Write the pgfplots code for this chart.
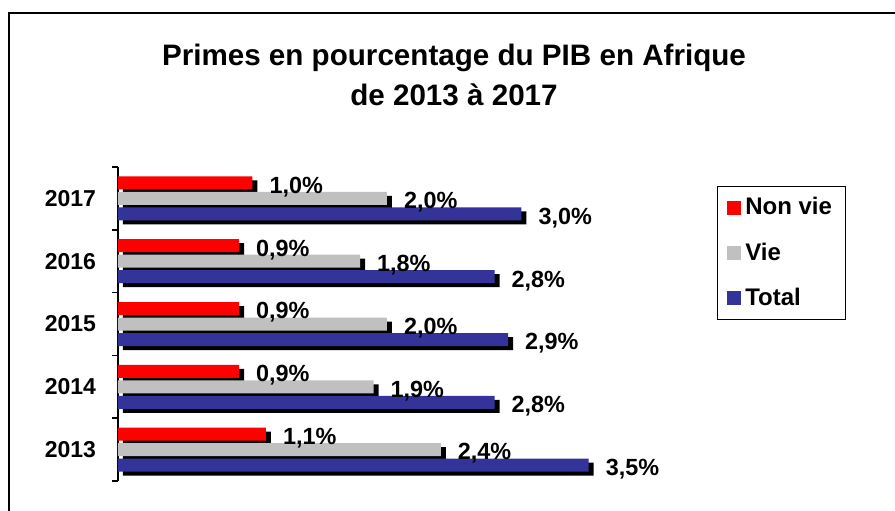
\documentclass[border=0pt]{standalone}
\usepackage{fontspec}
\setmainfont{Liberation Sans}
\usepackage{pgfplots}
\pgfplotsset{compat=1.18}
\definecolor{cred}{RGB}{255,0,0}
\definecolor{cgray}{RGB}{192,192,192}
\definecolor{cblue}{RGB}{51,51,153}
\begin{document}
\begin{tikzpicture}
\useasboundingbox (-59pt,-14.5pt) rectangle (388.5pt,240.5pt);
\draw[line width=1pt] (-54.5pt,-20pt) rectangle (400pt,234pt);
\node[font=\fontsize{14.8}{20}\selectfont\bfseries, align=center] at (168pt,203pt) {Primes en pourcentage du PIB en Afrique\\de 2013 à 2017};
\begin{axis}[
 at={(0,0)}, anchor=south west,
 scale only axis, width=269pt, height=157pt,
 xmin=0, xmax=4, ymin=-0.5, ymax=4.5,
 clip=false,
 hide x axis,
 axis y line=left, y axis line style={-, line width=0.75pt},
 ytick={0,1,2,3,4}, yticklabels={2013,2014,2015,2016,2017},
 major tick length=0pt,
 extra y ticks={-0.5,0.5,1.5,2.5,3.5,4.5}, extra y tick labels={},
 extra y tick style={major tick length=3pt, tick align=outside, tick style={line width=0.75pt,black}},
 yticklabel style={font=\fontsize{11.5}{13}\selectfont\bfseries, xshift=-7.5pt},
 xbar, bar width=6.5pt,
 point meta=x,
 /pgf/number format/fixed,
 /pgf/number format/fixed zerofill,
 /pgf/number format/precision=1,
 /pgf/number format/use comma,
 /pgf/number format/assume math mode=true,
 nodes near coords={\pgfmathprintnumber{\pgfplotspointmeta}\%},
 nodes near coords style={anchor=west, xshift=5pt, yshift=-2pt, font=\fontsize{11.7}{13}\selectfont\bfseries, text=black},
 legend style={at={(1.113,0.9395)}, anchor=north west, draw=black, line width=0.5pt,
   font=\fontsize{12}{14}\selectfont\bfseries, row sep=8.5pt, inner xsep=5pt, inner ysep=3.5pt},
 legend image code/.code={\fill[#1] (0pt,-3.5pt) rectangle (7pt,3.5pt);},
 legend cell align=left,
]
% shadows
\addplot[forget plot, fill=black, draw=none, bar shift=7.75pt, xshift=2.5pt, yshift=-2pt, nodes near coords={}] coordinates {(1.1,0) (0.9,1) (0.9,2) (0.9,3) (1.0,4)};
\addplot[forget plot, fill=black, draw=none, bar shift=0pt, xshift=2.5pt, yshift=-2pt, nodes near coords={}] coordinates {(2.4,0) (1.9,1) (2.0,2) (1.8,3) (2.0,4)};
\addplot[forget plot, fill=black, draw=none, bar shift=-7.75pt, xshift=2.5pt, yshift=-2pt, nodes near coords={}] coordinates {(3.5,0) (2.8,1) (2.9,2) (2.8,3) (3.0,4)};
% bars
\addplot[fill=cred, draw=none, bar shift=7.75pt] coordinates {(1.1,0) (0.9,1) (0.9,2) (0.9,3) (1.0,4)};
\addlegendentry{Non vie}
\addplot[fill=cgray, draw=none, bar shift=0pt] coordinates {(2.4,0) (1.9,1) (2.0,2) (1.8,3) (2.0,4)};
\addlegendentry{Vie}
\addplot[fill=cblue, draw=none, bar shift=-7.75pt] coordinates {(3.5,0) (2.8,1) (2.9,2) (2.8,3) (3.0,4)};
\addlegendentry{Total}
\end{axis}
\end{tikzpicture}
\end{document}
